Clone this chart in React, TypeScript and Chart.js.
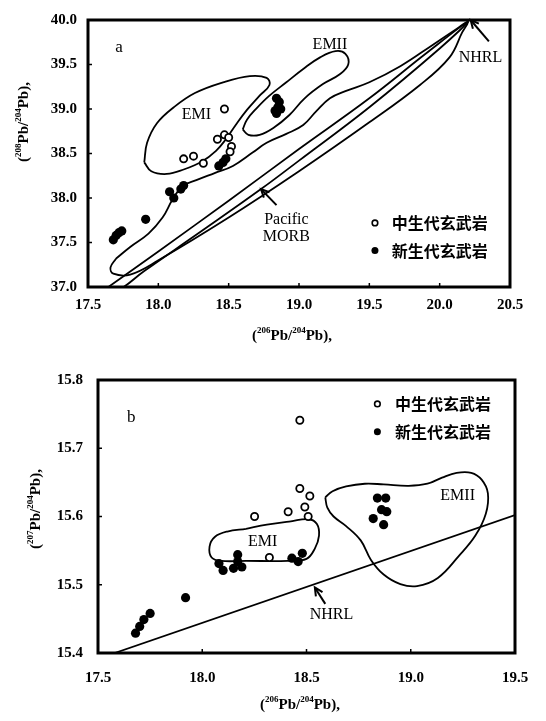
import React, { useEffect, useRef } from 'react';
import { Chart, registerables } from 'chart.js';
Chart.register(...registerables);

type P = [number, number];

// ---------- Panel a : 208Pb/204Pb vs 206Pb/204Pb ----------
const aXTicks = [17.5, 18.0, 18.5, 19.0, 19.5, 20.0, 20.5];
const aYTicks = [37.0, 37.5, 38.0, 38.5, 39.0, 39.5, 40.0];
const aMesozoic: P[] = [
  [18.47, 39.0], [18.42, 38.66], [18.47, 38.71], [18.5, 38.68], [18.52, 38.58],
  [18.51, 38.52], [18.18, 38.44], [18.25, 38.47], [18.32, 38.39],
];
const aCenozoic: P[] = [
  [18.84, 39.12], [18.86, 39.08], [18.85, 39.02], [18.83, 38.98], [18.87, 39.0], [18.84, 38.95],
  [18.46, 38.4], [18.43, 38.36], [18.48, 38.44],
  [18.08, 38.07], [18.11, 38.0], [18.16, 38.1], [18.18, 38.14],
  [17.91, 37.76],
  [17.68, 37.53], [17.7, 37.58], [17.72, 37.61], [17.74, 37.63],
];
const aEMI: P[] = [
  [17.9, 38.4], [17.92, 38.62], [17.99, 38.84], [18.11, 39.02], [18.26, 39.18], [18.46, 39.3],
  [18.65, 39.37], [18.77, 39.35], [18.79, 39.27], [18.72, 39.15], [18.63, 38.99], [18.55, 38.82],
  [18.48, 38.66], [18.41, 38.53], [18.31, 38.41], [18.18, 38.32], [18.06, 38.27], [17.95, 38.3],
];
const aEMII: P[] = [
  [18.6, 38.77], [18.63, 38.88], [18.7, 39.01], [18.79, 39.15], [18.91, 39.3], [19.03, 39.45],
  [19.15, 39.58], [19.26, 39.65], [19.33, 39.62], [19.35, 39.5], [19.29, 39.39], [19.17, 39.28],
  [19.04, 39.12], [18.93, 38.93], [18.82, 38.79], [18.72, 38.71], [18.64, 38.71],
];
const aEnvelope: P[] = [
  [17.7, 37.32], [17.8, 37.45], [17.93, 37.6], [18.03, 37.78], [18.1, 37.98], [18.17, 38.13],
  [18.27, 38.2], [18.4, 38.28], [18.53, 38.36], [18.67, 38.51], [18.77, 38.62], [18.91, 38.72],
  [19.03, 38.82], [19.12, 38.97], [19.22, 39.12], [19.33, 39.2], [19.5, 39.3], [19.72, 39.48],
  [19.95, 39.72], [20.12, 39.9], [20.2, 39.98], [20.16, 39.86], [20.07, 39.58], [19.86, 39.27],
  [19.5, 38.85], [19.0, 38.3], [18.5, 37.78], [18.0, 37.3], [17.8, 37.14], [17.68, 37.15], [17.66, 37.22],
];
const aMORB: P[] = [
  [17.6, 36.95], [18.0, 37.4], [18.5, 37.97], [19.0, 38.55], [19.5, 39.12], [19.9, 39.62],
  [20.2, 39.98], [20.0, 39.68], [19.5, 39.02], [19.0, 38.42], [18.73, 38.1], [18.3, 37.62],
  [17.9, 37.18], [17.7, 36.95],
];

// ---------- Panel b : 207Pb/204Pb vs 206Pb/204Pb ----------
const bXTicks = [17.5, 18.0, 18.5, 19.0, 19.5];
const bYTicks = [15.4, 15.5, 15.6, 15.7, 15.8];
const bMesozoic: P[] = [
  [18.468, 15.741], [18.468, 15.641], [18.516, 15.63], [18.492, 15.614], [18.508, 15.6],
  [18.412, 15.607], [18.251, 15.6], [18.322, 15.54],
];
const bCenozoic: P[] = [
  [18.08, 15.531], [18.1, 15.521], [18.17, 15.544], [18.17, 15.534], [18.15, 15.524], [18.19, 15.526],
  [18.43, 15.539], [18.48, 15.546], [18.46, 15.534],
  [17.92, 15.481], [17.75, 15.458], [17.72, 15.449], [17.7, 15.439], [17.68, 15.429],
  [18.84, 15.627], [18.88, 15.627], [18.86, 15.61], [18.885, 15.607], [18.82, 15.597], [18.87, 15.588],
];
const bEMI: P[] = [
  [18.21, 15.582], [18.31, 15.588], [18.425, 15.593], [18.51, 15.596], [18.55, 15.589], [18.56, 15.572],
  [18.54, 15.553], [18.5, 15.538], [18.41, 15.535], [18.21, 15.535], [18.09, 15.535], [18.045, 15.54],
  [18.035, 15.556], [18.06, 15.57], [18.12, 15.578],
];
const bEMII: P[] = [
  [18.59, 15.628], [18.6, 15.613], [18.63, 15.6], [18.69, 15.586], [18.76, 15.565], [18.81, 15.536],
  [18.87, 15.515], [18.95, 15.501], [19.03, 15.498], [19.13, 15.51], [19.23, 15.542], [19.31, 15.572],
  [19.36, 15.604], [19.37, 15.634], [19.34, 15.654], [19.29, 15.664], [19.22, 15.664], [19.15, 15.657],
  [19.08, 15.648], [18.99, 15.645], [18.87, 15.647], [18.78, 15.648], [18.69, 15.644], [18.625, 15.637],
];
const bNHRL: P[] = [[17.58, 15.4], [19.5, 15.602]];

const SERIF = '"Liberation Serif", "Times New Roman", serif';
const CJK = '"Noto Sans CJK SC", sans-serif';
const LEGEND_LABELS = ['中生代玄武岩', '新生代玄武岩'];
// axis titles: [text, isSuperscript] segments
type Seg = [string, boolean];
const X_TITLE: Seg[] = [['(', false], ['206', true], ['Pb/', false], ['204', true], ['Pb),', false]];
const YA_TITLE: Seg[] = [['(', false], ['208', true], ['Pb/', false], ['204', true], ['Pb),', false]];
const YB_TITLE: Seg[] = [['(', false], ['207', true], ['Pb/', false], ['204', true], ['Pb),', false]];

const closed = (pts: P[]) => [...pts, pts[0]].map(([x, y]) => ({ x, y }));
const pts = (p: P[]) => p.map(([x, y]) => ({ x, y }));

type Label = { t: string; x: number; y: number; size?: number; align?: CanvasTextAlign };
type Arrow = { tip: P; tail: P };
type PanelCfg = {
  xr: [number, number]; yr: [number, number]; xTicks: number[]; yTicks: number[];
  area: { left: number; top: number; right: number; bottom: number };
  w: number; h: number; yPad: number; xPad: number;
  meso: P[]; ceno: P[]; contours: P[][]; lines: P[][];
  labels: Label[]; arrows: Arrow[];
  legend: { mx: number; y1: number; y2: number; tx: number };
  xTitle: { t: Seg[]; x: number; y: number };
  yTitle: { t: Seg[]; x: number; y: number };
};

function drawRich(ctx: CanvasRenderingContext2D, segs: Seg[], cx: number, cy: number) {
  const big = `bold 15px ${SERIF}`;
  const small = `bold 9px ${SERIF}`;
  let total = 0;
  segs.forEach(([t, sup]) => { ctx.font = sup ? small : big; total += ctx.measureText(t).width; });
  let x = cx - total / 2;
  ctx.textAlign = 'left';
  ctx.textBaseline = 'middle';
  segs.forEach(([t, sup]) => {
    ctx.font = sup ? small : big;
    ctx.fillText(t, x, sup ? cy - 5 : cy);
    x += ctx.measureText(t).width;
  });
}

function makeChart(canvas: HTMLCanvasElement, c: PanelCfg) {
  const lineDs = (p: any[]) => ({
    type: 'line' as const, data: p, showLine: true, borderColor: '#000', borderWidth: 1.8,
    pointRadius: 0, tension: 0.4, fill: false, order: 5,
  });
  const deco = {
    id: 'deco',
    afterDatasetsDraw(chart: any) {
      const { ctx, chartArea: a, scales } = chart;
      const X = (v: number) => scales.x.getPixelForValue(v);
      const Y = (v: number) => scales.y.getPixelForValue(v);
      ctx.save();
      ctx.fillStyle = '#000';
      ctx.strokeStyle = '#000';
      // frame
      ctx.lineWidth = 3;
      ctx.strokeRect(a.left, a.top, a.right - a.left, a.bottom - a.top);
      ctx.lineWidth = 1.5;
      c.xTicks.forEach((v) => { ctx.beginPath(); ctx.moveTo(X(v), a.bottom); ctx.lineTo(X(v), a.bottom - 4); ctx.stroke(); });
      c.yTicks.forEach((v) => { ctx.beginPath(); ctx.moveTo(a.left, Y(v)); ctx.lineTo(a.left + 4, Y(v)); ctx.stroke(); });
      // labels
      ctx.textBaseline = 'middle';
      c.labels.forEach((l) => {
        ctx.font = `${l.size || 15}px ${SERIF}`;
        ctx.textAlign = l.align || 'center';
        ctx.fillText(l.t, X(l.x), Y(l.y));
      });
      // arrows
      ctx.lineWidth = 2;
      c.arrows.forEach(({ tip, tail }) => {
        const tx = X(tip[0]), ty = Y(tip[1]), sx = X(tail[0]), sy = Y(tail[1]);
        const ang = Math.atan2(ty - sy, tx - sx);
        ctx.beginPath(); ctx.moveTo(sx, sy); ctx.lineTo(tx, ty); ctx.stroke();
        ctx.beginPath();
        ctx.moveTo(tx - 9 * Math.cos(ang - 0.45), ty - 9 * Math.sin(ang - 0.45));
        ctx.lineTo(tx, ty);
        ctx.lineTo(tx - 9 * Math.cos(ang + 0.45), ty - 9 * Math.sin(ang + 0.45));
        ctx.stroke();
      });
      // legend
      const L = c.legend;
      ctx.lineWidth = 1.6;
      ctx.beginPath(); ctx.arc(X(L.mx), Y(L.y1), 2.8, 0, Math.PI * 2); ctx.stroke();
      ctx.beginPath(); ctx.arc(X(L.mx), Y(L.y2), 3.5, 0, Math.PI * 2); ctx.fill();
      ctx.font = `bold 16px ${CJK}`;
      ctx.textAlign = 'left';
      ctx.fillText(LEGEND_LABELS[0], X(L.tx), Y(L.y1));
      ctx.fillText(LEGEND_LABELS[1], X(L.tx), Y(L.y2));
      // axis titles
      drawRich(ctx, c.xTitle.t, c.xTitle.x, c.xTitle.y);
      ctx.translate(c.yTitle.x, c.yTitle.y);
      ctx.rotate(-Math.PI / 2);
      drawRich(ctx, c.yTitle.t, 0, 0);
      ctx.restore();
    },
  };
  const tickFont = { family: SERIF, size: 15, weight: 'bold' as const };
  return new Chart(canvas, {
    type: 'scatter',
    data: {
      datasets: [
        ...c.contours.map((p) => lineDs(closed(p))),
        ...c.lines.map((p) => ({ ...lineDs(pts(p)), tension: 0 })),
        {
          data: pts(c.meso), pointRadius: 3.6, pointBorderWidth: 1.8, pointBackgroundColor: '#fff',
          pointBorderColor: '#000', order: 1,
        },
        {
          data: pts(c.ceno), pointRadius: 4.6, pointBorderWidth: 0, pointBackgroundColor: '#000',
          pointBorderColor: '#000', order: 0,
        },
      ],
    } as any,
    options: {
      animation: false,
      responsive: false,
      maintainAspectRatio: false,
      events: [],
      layout: { padding: { top: c.area.top, right: c.w - c.area.right, left: 0, bottom: 0 } },
      plugins: { legend: { display: false }, tooltip: { enabled: false } },
      scales: {
        x: {
          type: 'linear', min: c.xr[0], max: c.xr[1],
          afterBuildTicks: (s: any) => { s.ticks = c.xTicks.map((v) => ({ value: v })); },
          ticks: { font: tickFont, color: '#000', padding: c.xPad, maxRotation: 0, autoSkip: false, callback: (v: any) => Number(v).toFixed(1) },
          grid: { display: false, drawTicks: false }, border: { display: false },
          afterFit: (s: any) => { s.height = c.h - c.area.bottom; },
        },
        y: {
          type: 'linear', min: c.yr[0], max: c.yr[1],
          afterBuildTicks: (s: any) => { s.ticks = c.yTicks.map((v) => ({ value: v })); },
          ticks: { font: tickFont, color: '#000', padding: c.yPad, autoSkip: false, callback: (v: any) => Number(v).toFixed(1) },
          grid: { display: false, drawTicks: false }, border: { display: false },
          afterFit: (s: any) => { s.width = c.area.left; },
        },
      },
    } as any,
    plugins: [deco],
  });
}

const panelA: PanelCfg = {
  xr: [17.5, 20.5], yr: [37, 40], xTicks: aXTicks, yTicks: aYTicks,
  area: { left: 88, top: 11, right: 510, bottom: 287 }, w: 546, h: 345, yPad: 11, xPad: 9,
  meso: aMesozoic, ceno: aCenozoic, contours: [aEMI, aEMII, aEnvelope, aMORB], lines: [],
  labels: [
    { t: 'a', x: 17.72, y: 39.69, size: 17 },
    { t: 'EMI', x: 18.27, y: 38.93, size: 16 },
    { t: 'EMII', x: 19.22, y: 39.72, size: 16 },
    { t: 'NHRL', x: 20.29, y: 39.58, size: 16 },
    { t: 'Pacific', x: 18.91, y: 37.75, size: 16 },
    { t: 'MORB', x: 18.91, y: 37.56, size: 16 },
  ],
  arrows: [
    { tip: [20.22, 40.0], tail: [20.35, 39.76] },
    { tip: [18.73, 38.1], tail: [18.84, 37.92] },
  ],
  legend: { mx: 19.54, y1: 37.72, y2: 37.41, tx: 19.66 },
  xTitle: { t: X_TITLE, x: 292, y: 336 },
  yTitle: { t: YA_TITLE, x: 24, y: 122 },
};

const panelB: PanelCfg = {
  xr: [17.5, 19.5], yr: [15.4, 15.8], xTicks: bXTicks, yTicks: bYTicks,
  area: { left: 98, top: 35, right: 515, bottom: 308 }, w: 546, h: 376, yPad: 15, xPad: 16,
  meso: bMesozoic, ceno: bCenozoic, contours: [bEMI, bEMII], lines: [bNHRL],
  labels: [
    { t: 'b', x: 17.66, y: 15.745, size: 17 },
    { t: 'EMI', x: 18.29, y: 15.563, size: 16 },
    { t: 'EMII', x: 19.225, y: 15.631, size: 16 },
    { t: 'NHRL', x: 18.62, y: 15.456, size: 16 },
  ],
  arrows: [{ tip: [18.54, 15.496], tail: [18.59, 15.472] }],
  legend: { mx: 18.84, y1: 15.765, y2: 15.724, tx: 18.925 },
  xTitle: { t: X_TITLE, x: 300, y: 360 },
  yTitle: { t: YB_TITLE, x: 36, y: 164 },
};

function Panel({ cfg, top }: { cfg: PanelCfg; top: number }) {
  const ref = useRef<HTMLCanvasElement>(null);
  useEffect(() => {
    if (!ref.current) return;
    const ch = makeChart(ref.current, cfg);
    return () => ch.destroy();
  }, [cfg]);
  return (
    <canvas ref={ref} width={cfg.w} height={cfg.h}
      style={{ position: 'absolute', left: 0, top, width: cfg.w, height: cfg.h }} />
  );
}

export default function App() {
  return (
    <div style={{ position: 'absolute', left: 0, top: 0, width: 546, height: 721, background: '#fff' }}>
      <Panel cfg={panelA} top={0} />
      <Panel cfg={panelB} top={345} />
    </div>
  );
}
